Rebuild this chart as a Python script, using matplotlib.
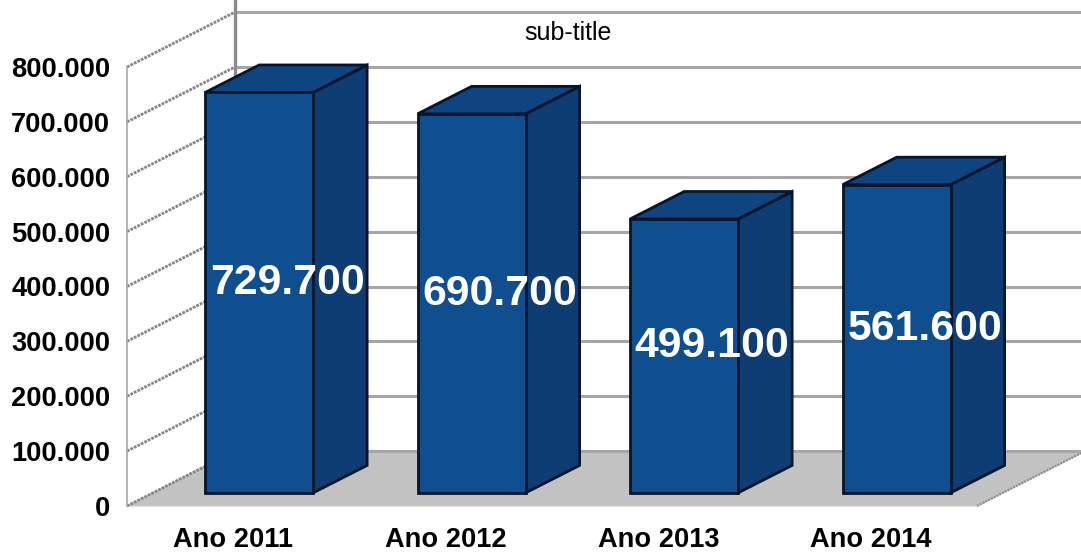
import matplotlib
matplotlib.use("Agg")
import matplotlib.pyplot as plt
from matplotlib.patches import Polygon

plt.rcParams['font.family'] = ['Liberation Sans', 'DejaVu Sans']

# Datos
anos = ["Ano 2011", "Ano 2012", "Ano 2013", "Ano 2014"]
valores = [729700, 690700, 499100, 561600]
marcas_y = [0, 100000, 200000, 300000, 400000, 500000, 600000, 700000, 800000]
subtitulo = "sub-title"

# Desplazamiento de la profundidad 3D, en unidades de los ejes
PROF_X = 0.508
PROF_Y = 100000
ANCHO = 0.508
D0, D1 = 0.24, 0.74

AZUL_FRENTE = "#0f4f8f"
AZUL_LADO = "#0d3d73"
AZUL_TOPE = "#0e4580"
BORDE = "#06152b"


def proy(x, y, d=0.0):
    return (x + PROF_X * d, y + PROF_Y * d)


def miles(v):
    return f"{v:,}".replace(",", ".")


fig = plt.figure(figsize=(10.81, 5.52), dpi=100)
ax = fig.add_axes([127 / 1081, 46 / 552, 850 / 1081, 439 / 552])
ax.set_xlim(0, 4)
ax.set_ylim(0, 800000)
ax.patch.set_visible(False)
for s in ax.spines.values():
    s.set_visible(False)

# Suelo
ax.add_patch(Polygon([proy(0, 0), proy(4, 0), proy(4, 0, 1), proy(0, 0, 1)],
                     facecolor="#c2c2c2", edgecolor="#d0d0d0", lw=1, clip_on=False, zorder=1))

# Paredes: rejilla del fondo y rejilla lateral
for v in marcas_y:
    a, b = proy(0, v, 1), proy(4, v, 1)
    ax.plot([a[0], b[0]], [a[1], b[1]], color="#a6a6a6", lw=2.2, clip_on=False, zorder=2)
    a, b = proy(0, v), proy(0, v, 1)
    ax.plot([a[0], b[0]], [a[1], b[1]], color="#868686", lw=2.0, ls=(0, (1, 0.4)),
            clip_on=False, zorder=2)

a, b = proy(0, 0, 1), proy(0, 900000, 1)
ax.plot([a[0], b[0]], [a[1], b[1]], color="#8c8c8c", lw=2.4, clip_on=False, zorder=2)
ax.plot([0, 0], [0, 800000], color="#a8a8a8", lw=1.2, clip_on=False, zorder=2)
a, b = proy(0, 900000, 1), proy(4, 900000, 1)
ax.plot([a[0], b[0]], [a[1], b[1]], color="#c4c4c4", lw=1.4, clip_on=False, zorder=2)
a, b = proy(4, 0), proy(4, 0, 1)
ax.plot([a[0], b[0]], [a[1], b[1]], color="#8f8f8f", lw=1.6, ls=(0, (1, 0.4)),
        clip_on=False, zorder=2)

# Barras
for i, v in enumerate(valores):
    x0 = i + 0.5 - ANCHO / 2
    x1 = x0 + ANCHO
    z = 3 + i
    lado = [proy(x1, 0, D0), proy(x1, 0, D1), proy(x1, v, D1), proy(x1, v, D0)]
    tope = [proy(x0, v, D0), proy(x1, v, D0), proy(x1, v, D1), proy(x0, v, D1)]
    frente = [proy(x0, 0, D0), proy(x1, 0, D0), proy(x1, v, D0), proy(x0, v, D0)]
    ax.add_patch(Polygon(lado, facecolor=AZUL_LADO, edgecolor=BORDE, lw=2, clip_on=False, zorder=z))
    ax.add_patch(Polygon(tope, facecolor=AZUL_TOPE, edgecolor=BORDE, lw=2, clip_on=False, zorder=z))
    ax.add_patch(Polygon(frente, facecolor=AZUL_FRENTE, edgecolor=BORDE, lw=2, clip_on=False, zorder=z))

# Etiquetas de valor, un poco por debajo del centro de la barra
for i, v in enumerate(valores):
    tx, ty = proy(i + 0.5, v / 2 - 8500, 0.5)
    ax.text(tx, ty, miles(v), color="white", fontsize=30.8, fontweight="bold",
            ha="center", va="center", zorder=10)

# Ejes
ax.set_xticks([i + 0.5 for i in range(len(anos))])
ax.set_xticklabels(anos, fontsize=19.6, fontweight="bold")
ax.set_yticks(marcas_y)
ax.set_yticklabels([miles(v) for v in marcas_y], fontsize=19.6, fontweight="bold")
ax.tick_params(axis="x", length=0, pad=15)
ax.tick_params(axis="y", length=0, pad=12)

fig.text(568 / 1081, 1 - 33.5 / 552, subtitulo, fontsize=18, ha="center", va="center")

fig.savefig("out.png", dpi=100)
